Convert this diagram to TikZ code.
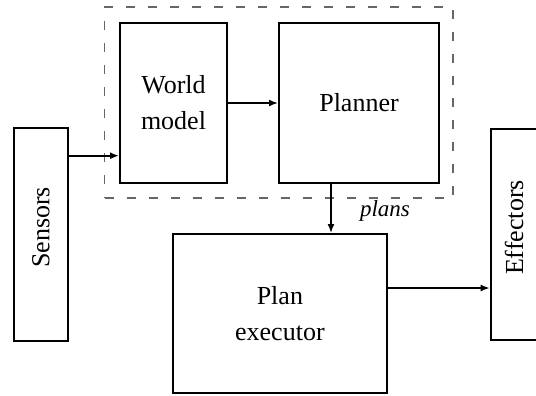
\documentclass[tikz,border=0pt]{standalone}
\usepackage{fontspec}
\setmainfont{Liberation Serif}
\usetikzlibrary{arrows.meta}
\begin{document}
\begin{tikzpicture}[x=1bp,y=-1bp,
  box/.style={draw,line width=2bp,inner sep=0pt,align=center,
    font=\fontsize{26bp}{36bp}\selectfont},
  arr/.style={line width=1.6bp,-{Latex[length=9bp,width=7bp]}},
  group/.style={draw=black!60,line width=1.2bp,dash pattern=on 9bp off 13bp}]
\clip (0,0) rectangle (536,395);
\node[group,minimum width=348.5bp,minimum height=191bp] (grp) at (278.75,102.5) {};
\node[box,minimum width=54bp,minimum height=213bp] (sens) at (41,234.5) {};
\node[rotate=90,font=\fontsize{26bp}{36bp}\selectfont,inner sep=0pt] (senst) at (41,227.5) {Sensors};
\node[box,minimum width=107bp,minimum height=160bp] (wm) at (173.5,103) {World\\model};
\node[box,minimum width=160bp,minimum height=160bp] (plan) at (359,103) {Planner};
\node[box,minimum width=214bp,minimum height=159bp] (exec) at (279.9,313.5) {Plan\\executor};
\node[box,minimum width=54bp,minimum height=211bp] (eff) at (517.7,234.5) {};
\node[rotate=90,font=\fontsize{26bp}{36bp}\selectfont,inner sep=0pt] (efft) at (514,227.5) {Effectors};
\coordinate (s1) at ([yshift=-52.7bp]wm.west);
\draw[arr] (sens.east |- s1) -- (s1);
\draw[arr] (wm.east) -- (plan.west);
\coordinate (p1) at ([xshift=-28bp]plan.south);
\draw[arr] (p1) -- (p1 |- exec.north);
\node[anchor=base,inner sep=0pt,font=\fontsize{23bp}{28bp}\selectfont\itshape] (plbl) at (385,216.7) {plans};
\coordinate (e1) at ([yshift=25.5bp]exec.east);
\draw[arr] (e1) -- (e1 -| eff.west);
\end{tikzpicture}
\end{document}
